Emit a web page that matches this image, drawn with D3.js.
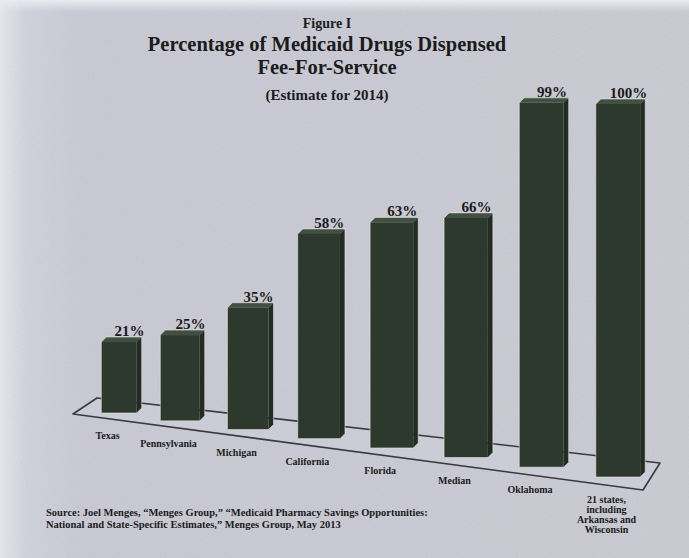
<!DOCTYPE html>
<html>
<head>
<meta charset="utf-8">
<script src="https://cdn.jsdelivr.net/npm/d3@7/dist/d3.min.js"></script>
<style>
  html, body { margin: 0; padding: 0; background: #c8c9d4; }
  svg { display: block; }
</style>
</head>
<body>
<svg id="chart" width="689" height="558"></svg>
<script>
// ---- data ----
const categories = ["Texas", "Pennsylvania", "Michigan", "California", "Florida", "Median", "Oklahoma",
  "21 states,\nincluding\nArkansas and\nWisconsin"];
const values = [21, 25, 35, 58, 63, 66, 99, 100];
const valueLabels = values.map(v => v + "%");
const titleLines = ["Figure I", "Percentage of Medicaid Drugs Dispensed", "Fee-For-Service", "(Estimate for 2014)"];
const sourceLines = [
  "Source: Joel Menges, \u201CMenges Group,\u201D \u201CMedicaid Pharmacy Savings Opportunities:",
  "National and State-Specific Estimates,\u201D Menges Group, May 2013"
];

// ---- layout ----
const W = 689, H = 558;
const svg = d3.select("#chart");
const serif = "'Liberation Serif', 'Times New Roman', serif";
const ink = "#1b1c1a";

const defs = svg.append("defs");
const lg = defs.append("linearGradient").attr("id", "edge").attr("x1", 0).attr("x2", 1).attr("y1", 0).attr("y2", 0);
lg.append("stop").attr("offset", "0").attr("stop-color", "#e6e8f0");
lg.append("stop").attr("offset", "0.04").attr("stop-color", "#cfd1dc");
lg.append("stop").attr("offset", "0.12").attr("stop-color", "#c8c9d4");
lg.append("stop").attr("offset", "1").attr("stop-color", "#c9cad3");
const tg = defs.append("linearGradient").attr("id", "topedge").attr("x1", 0).attr("x2", 0).attr("y1", 0).attr("y2", 1);
tg.append("stop").attr("offset", "0").attr("stop-color", "#eceef3").attr("stop-opacity", 1);
tg.append("stop").attr("offset", "1").attr("stop-color", "#eceef3").attr("stop-opacity", 0);
const flt = defs.append("filter").attr("id", "grain").attr("x", 0).attr("y", 0).attr("width", "100%").attr("height", "100%");
flt.append("feTurbulence").attr("type", "fractalNoise").attr("baseFrequency", 0.9).attr("numOctaves", 2).attr("seed", 3).attr("result", "n");
flt.append("feColorMatrix").attr("type", "saturate").attr("values", 0);

svg.append("rect").attr("width", W).attr("height", H).attr("fill", "url(#edge)");
svg.append("rect").attr("width", W).attr("height", 12).attr("fill", "url(#topedge)");
svg.append("rect").attr("width", W).attr("height", H).attr("filter", "url(#grain)").attr("opacity", 0.12);

// ---- scales (perspective of the tilted floor) ----
const idx = d3.range(categories.length);
const x = d3.scalePow().exponent(1.08).domain([0, categories.length - 1]).range([121.5, 620.5]);
const floorY = d3.scaleLinear().domain([121.5, 620.5]).range([413, 477]);
const pxPerPct = d3.scaleLinear().domain([0, categories.length - 1]).range([3.38, 3.73]);
const spacing = i => i < categories.length - 1 ? x(i + 1) - x(i) : x(i) - x(i - 1);
const depth = 5;

// ---- floor ----
const floor = [[73, 414], [97, 398], [660, 463], [643, 490]];
svg.append("polygon")
  .attr("points", floor.map(p => p.join(",")).join(" "))
  .attr("fill", "#cbccd5")
  .attr("stroke", "#3a3b3e")
  .attr("stroke-width", 1.6)
  .attr("stroke-linejoin", "round");

// ---- bars ----
const bars = idx.map(i => {
  const xc = x(i);
  const w = 0.58 * spacing(i);
  const fl = xc - (w + depth) / 2;
  const fr = fl + w;
  const base = floorY(xc);
  const yv = d3.scaleLinear().domain([0, 100]).range([base, base - 100 * pxPerPct(i)]);
  return { i, xc, w, fl, fr, base, top: yv(values[i]) };
});

const g = svg.append("g");
const bg = g.selectAll("g.bar").data(bars).join("g").attr("class", "bar");
bg.append("polygon")
  .attr("points", d => [[d.fl, d.top], [d.fl + depth, d.top - depth], [d.fr + depth, d.top - depth], [d.fr, d.top]].map(p => p.join(",")).join(" "))
  .attr("fill", "#415040");
bg.append("polygon")
  .attr("points", d => [[d.fr, d.top], [d.fr + depth, d.top - depth], [d.fr + depth, d.base - depth], [d.fr, d.base]].map(p => p.join(",")).join(" "))
  .attr("fill", "#222c22");
bg.append("rect")
  .attr("x", d => d.fl).attr("y", d => d.top)
  .attr("width", d => d.w).attr("height", d => d.base - d.top)
  .attr("fill", "#2c392c");
bg.append("polygon")
  .attr("points", d => [[d.fl, d.base], [d.fl, d.top], [d.fl + depth, d.top - depth], [d.fr + depth, d.top - depth], [d.fr + depth, d.base - depth], [d.fr, d.base]].map(p => p.join(",")).join(" "))
  .attr("fill", "none")
  .attr("stroke", "#e9ece2")
  .attr("stroke-opacity", 0.55)
  .attr("stroke-width", 1);

// value labels
g.selectAll("text.val").data(bars).join("text")
  .attr("class", "val")
  .attr("x", d => d.xc + 8)
  .attr("y", d => d.top - 6)
  .attr("text-anchor", "middle")
  .attr("font-family", serif)
  .attr("font-weight", "bold")
  .attr("font-size", 15)
  .attr("fill", ink)
  .text(d => valueLabels[d.i]);

// category labels
const cl = g.selectAll("text.cat").data(bars).join("text")
  .attr("class", "cat")
  .attr("y", d => d.base + 26)
  .attr("text-anchor", "middle")
  .attr("font-family", serif)
  .attr("font-weight", "bold")
  .attr("font-size", 10)
  .attr("fill", ink);
cl.each(function(d) {
  const lines = categories[d.i].split("\n");
  d3.select(this).selectAll("tspan").data(lines).join("tspan")
    .attr("x", d.xc - 14)
    .attr("dy", (l, k) => k === 0 ? 0 : 10)
    .text(l => l);
});

// ---- titles ----
const titleSizes = [14, 20.5, 20.5, 15];
const titleY = [28, 51, 74, 100];
svg.selectAll("text.title").data(titleLines).join("text")
  .attr("class", "title")
  .attr("x", 327)
  .attr("y", (t, k) => titleY[k])
  .attr("text-anchor", "middle")
  .attr("font-family", serif)
  .attr("font-weight", "bold")
  .attr("font-size", (t, k) => titleSizes[k])
  .attr("fill", ink)
  .text(t => t);

// ---- source ----
svg.selectAll("text.src").data(sourceLines).join("text")
  .attr("class", "src")
  .attr("x", 46)
  .attr("y", (t, k) => 516 + k * 12)
  .attr("font-family", serif)
  .attr("font-weight", "bold")
  .attr("font-size", 10.5)
  .attr("fill", ink)
  .text(t => t);
</script>
</body>
</html>
